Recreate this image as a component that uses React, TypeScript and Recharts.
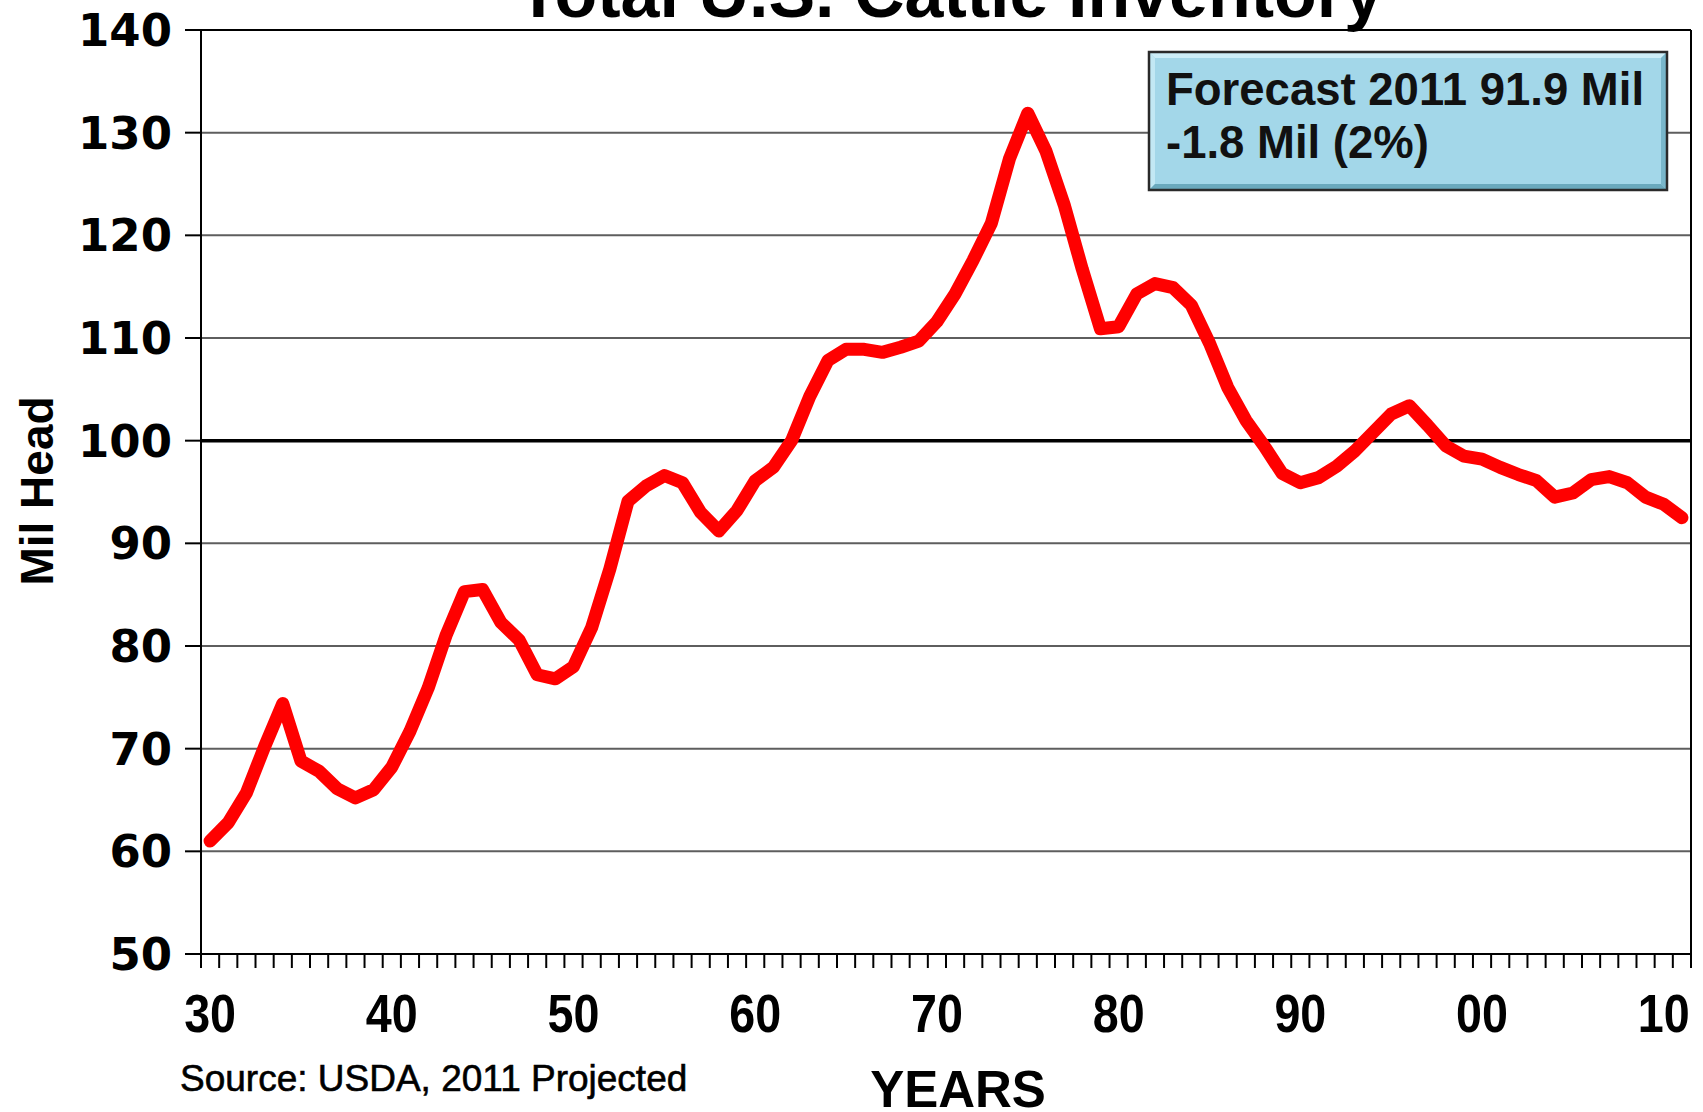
import React from 'react'
import { LineChart, Line, XAxis, YAxis, CartesianGrid, ReferenceLine } from 'recharts'

// January 1 inventory, million head, 1930-2011 (2011 projected)
const years = Array.from({ length: 82 }, (_, i) => 1930 + i)
const inventory = [
  61.0, 62.8, 65.7, 70.2, 74.4, 68.8, 67.8, 66.1, 65.2, 66.0,
  68.2, 71.7, 75.9, 81.1, 85.3, 85.5, 82.3, 80.6, 77.2, 76.8,
  78.0, 81.8, 87.5, 94.1, 95.6, 96.6, 95.9, 93.0, 91.2, 93.2,
  96.1, 97.4, 100.0, 104.3, 107.8, 108.9, 108.9, 108.6, 109.1, 109.7,
  111.6, 114.3, 117.6, 121.2, 127.5, 131.9, 128.2, 123.0, 116.7, 110.9,
  111.1, 114.3, 115.3, 114.9, 113.2, 109.5, 105.2, 102.0, 99.5, 96.8,
  95.9, 96.4, 97.5, 99.0, 100.8, 102.6, 103.4, 101.5, 99.5, 98.5,
  98.2, 97.4, 96.7, 96.1, 94.5, 94.9, 96.2, 96.5, 95.9, 94.5,
  93.8, 92.5
]
const yTicks = [50, 60, 70, 80, 90, 100, 110, 120, 130, 140]
const labelYears = [1930, 1940, 1950, 1960, 1970, 1980, 1990, 2000, 2010]
const xTickLabels = ['30', '40', '50', '60', '70', '80', '90', '00', '10']

const data = years.map((year, i) => ({ year, value: inventory[i] }))

const W = 1703
const H = 1112
const PLOT_LEFT = 201
const PLOT_RIGHT = 1691
const PLOT_TOP = 30
const PLOT_BOTTOM = 954
// half a category slot, so points sit between the tick marks like Excel
const HALF_SLOT = (PLOT_RIGHT - PLOT_LEFT) / years.length / 2

function YearTick(props: any) {
  const { x, y, payload, index } = props
  const li = labelYears.indexOf(payload.value)
  return (
    <g>
      <line x1={x - HALF_SLOT} x2={x - HALF_SLOT} y1={y} y2={y + 14} stroke="#000" strokeWidth={2} />
      {index === years.length - 1 && (
        <line x1={x + HALF_SLOT} x2={x + HALF_SLOT} y1={y} y2={y + 14} stroke="#000" strokeWidth={2} />
      )}
      {li >= 0 && (
        <text
          transform={`translate(${x},${y + 78}) scale(0.88,1)`}
          textAnchor="middle"
          fontFamily="Liberation Sans, Arial, sans-serif"
          fontWeight={700}
          fontSize={53}
          fill="#000"
        >
          {xTickLabels[li]}
        </text>
      )}
    </g>
  )
}

export default function App() {
  return (
    <div style={{ position: 'absolute', left: 0, top: 0, width: W, height: H, background: '#fff' }}>
      <LineChart
        width={W}
        height={H}
        data={data}
        margin={{ top: PLOT_TOP, right: W - PLOT_RIGHT, bottom: 0, left: 0 }}
      >
        <CartesianGrid vertical={false} stroke="#5e5e5e" strokeWidth={2} />
        <XAxis
          dataKey="year"
          height={H - PLOT_BOTTOM}
          interval={0}
          padding={{ left: HALF_SLOT, right: HALF_SLOT }}
          tickLine={false}
          tickSize={0}
          tickMargin={0}
          axisLine={{ stroke: '#000', strokeWidth: 2 }}
          tick={<YearTick />}
        />
        <YAxis
          domain={[50, 140]}
          ticks={yTicks}
          interval={0}
          width={PLOT_LEFT}
          tickSize={16}
          tickMargin={13}
          axisLine={{ stroke: '#000', strokeWidth: 2 }}
          tickLine={{ stroke: '#000', strokeWidth: 2 }}
          tick={{ fill: '#000', fontSize: 45, fontWeight: 700, fontFamily: 'DejaVu Sans' }}
        />
        <ReferenceLine y={100} stroke="#000" strokeWidth={3.5} />
        <ReferenceLine y={140} stroke="#000" strokeWidth={2} />
        <Line
          type="linear"
          dataKey="value"
          stroke="#ff0000"
          strokeWidth={13}
          strokeLinejoin="round"
          strokeLinecap="round"
          dot={false}
          activeDot={false}
          isAnimationActive={false}
        />
      </LineChart>

      <svg
        width={W}
        height={H}
        style={{ position: 'absolute', left: 0, top: 0, pointerEvents: 'none' }}
        fontFamily="Liberation Sans, Arial, sans-serif"
      >
        <line x1={PLOT_RIGHT} x2={PLOT_RIGHT} y1={PLOT_TOP} y2={PLOT_BOTTOM} stroke="#000" strokeWidth={2} />

        <text x={950} y={17} textAnchor="middle" fontSize={70} fontWeight={700} fill="#000">
          Total U.S. Cattle Inventory
        </text>

        <text
          x={53}
          y={491}
          transform="rotate(-90, 53, 491)"
          textAnchor="middle"
          fontSize={46}
          fontWeight={700}
          fill="#000"
        >
          Mil Head
        </text>

        <text x={958} y={1107} textAnchor="middle" fontSize={51} fontWeight={700} fill="#000">
          YEARS
        </text>
        <text x={180} y={1091} fontSize={37} fill="#000" stroke="#000" strokeWidth={0.6}>
          Source: USDA, 2011 Projected
        </text>

        {/* forecast callout */}
        <g>
          <rect x={1149} y={52} width={518} height={138} fill="#a3d7e9" />
          <polygon points="1149,52 1667,52 1661,58 1155,58" fill="#cdeef8" />
          <polygon points="1149,52 1155,58 1155,184 1149,190" fill="#c2e8f4" />
          <polygon points="1667,52 1667,190 1661,184 1661,58" fill="#78b6ca" />
          <polygon points="1149,190 1667,190 1661,184 1155,184" fill="#6aa9bd" />
          <rect x={1149} y={52} width={518} height={138} fill="none" stroke="#2a2a2a" strokeWidth={2.5} />
          <text x={1166} y={105} fontSize={45.5} fontWeight={700} fill="#111">
            Forecast 2011 91.9 Mil
          </text>
          <text x={1166} y={158} fontSize={45.5} fontWeight={700} fill="#111">
            -1.8 Mil (2%)
          </text>
        </g>
      </svg>
    </div>
  )
}
